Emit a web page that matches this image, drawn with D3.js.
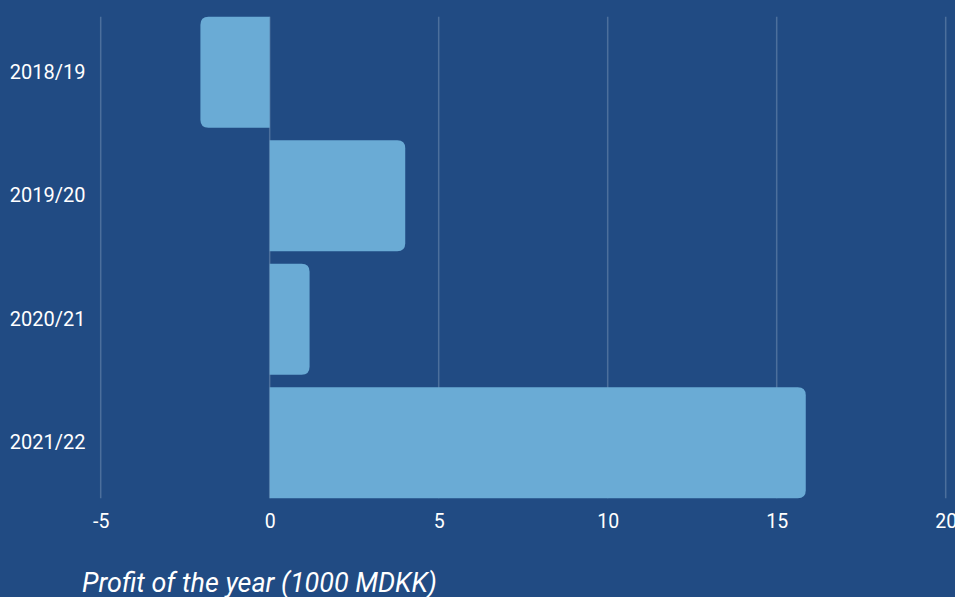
<!DOCTYPE html>
<html><head><meta charset="utf-8">
<script src="https://cdn.jsdelivr.net/npm/d3@7"></script>
<style>html,body{margin:0;padding:0;background:#214b83;overflow:hidden}svg{display:block}</style>
</head><body>
<script>
const categories = ["2018/19", "2019/20", "2020/21", "2021/22"];
const values = [-2.05, 4.01, 1.18, 15.86];
const xTicks = [-5, 0, 5, 10, 15, 20];
const axisTitle = "Profit of the year (1000 MDKK)";

const W = 955, H = 597;
const svg = d3.select("body").append("svg").attr("width", W).attr("height", H);
svg.append("rect").attr("width", W).attr("height", H).attr("fill", "#214b83");

const x = d3.scaleLinear().domain([-5, 20]).range([100.7, 945.7]);
const y = d3.scaleBand().domain(categories).range([16.7, 498.3]).paddingInner(0.101).paddingOuter(0);

const font = "Roboto, 'Noto Sans', sans-serif";

// gridlines
svg.append("g").selectAll("line").data(xTicks).join("line")
  .attr("x1", d => x(d)).attr("x2", d => x(d))
  .attr("y1", 16.7).attr("y2", 498.3)
  .attr("stroke", "#4c6f9c").attr("stroke-width", 1.5);

// bars with rounded far end
const r = 8;
function barPath(v, y0, h) {
  const x0 = x(0), x1 = x(v);
  const dir = v >= 0 ? 1 : -1;
  const rr = Math.min(r, Math.abs(x1 - x0) / 2, h / 2);
  return `M${x0},${y0}` +
    `L${x1 - dir * rr},${y0}` +
    `Q${x1},${y0} ${x1},${y0 + rr}` +
    `L${x1},${y0 + h - rr}` +
    `Q${x1},${y0 + h} ${x1 - dir * rr},${y0 + h}` +
    `L${x0},${y0 + h}Z`;
}
svg.append("g").selectAll("path").data(categories).join("path")
  .attr("d", (c, i) => barPath(values[i], y(c), y.bandwidth()))
  .attr("fill", "#6aabd5");

// x axis labels
const xa = svg.append("g").attr("transform", "translate(0,528)")
  .call(d3.axisBottom(x).tickValues(xTicks).tickSize(0).tickPadding(0).tickFormat(d => String(d)));
xa.select(".domain").remove();
xa.selectAll("text").attr("fill", "#ffffff").attr("font-size", 19.5).attr("font-family", font).attr("dy", 0).attr("y", 0);

// y axis labels
const ya = svg.append("g").attr("transform", "translate(85.5,0)")
  .call(d3.axisLeft(y).tickSize(0).tickPadding(0));
ya.select(".domain").remove();
ya.selectAll("text").attr("fill", "#ffffff").attr("font-size", 20).attr("font-family", font);

// axis title
svg.append("text").attr("x", 82).attr("y", 592)
  .attr("fill", "#ffffff").attr("font-size", 26.9).attr("font-style", "italic")
  .attr("font-family", font).text(axisTitle);
</script>
</body></html>
